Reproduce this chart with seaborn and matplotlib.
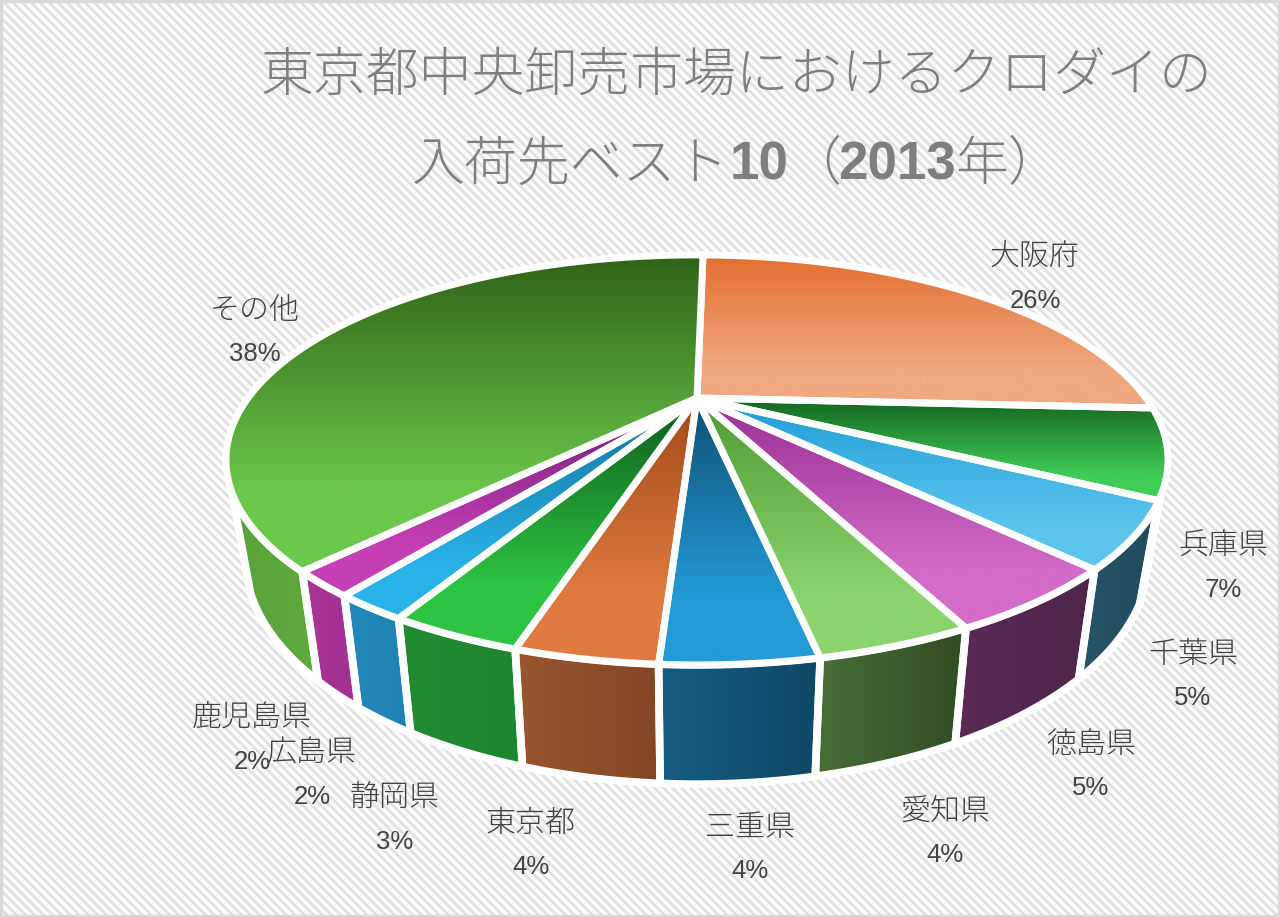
import numpy as np
import matplotlib
matplotlib.use("Agg")
import matplotlib.pyplot as plt
import seaborn as sns
from matplotlib.patches import Polygon

# data, clockwise from the top
prefectures = ["大阪府", "兵庫県", "千葉県", "徳島県", "愛知県", "三重県", "東京都", "静岡県", "広島県", "鹿児島県", "その他"]
shares = [25.6, 7.0, 5.0, 5.0, 4.1, 4.05, 3.7, 3.5, 2.0, 1.9, 38.3]
share_labels = ["26%", "7%", "5%", "5%", "4%", "4%", "4%", "3%", "2%", "2%", "38%"]

top_dark = ["#E36E2F", "#13641F", "#1F9DD4", "#982E94", "#4F9A32", "#0F4F73",
            "#A04A1A", "#0D5A1A", "#12709C", "#6E1E78", "#2F6318"]
top_light = ["#EFA880", "#41CC57", "#5CC5EE", "#D26CC8", "#8AD46E", "#229BD6",
             "#E07A40", "#2DC443", "#29B2E8", "#C63FB4", "#6CC84A"]
wall_left = ["#99562F", "#2F8A3A", "#275468", "#5A2A55", "#486E38", "#165C82",
             "#99562F", "#218C32", "#2389BA", "#AA3596", "#5AA33A"]
wall_right = ["#834625", "#2F8A3A", "#214A5E", "#4E2549", "#324C22", "#0E4865",
              "#834625", "#1E8530", "#1F83B2", "#A03090", "#5FAA3D"]

# where each label sits on the canvas (pixels)
label_xy = [(1035, 257), (1223, 546), (1193, 654), (1091, 744), (945, 811), (750, 827),
            (531, 823), (395, 798), (312, 753), (252, 718), (255, 310)]
LABEL_GAP = 44

START_ANGLE = 1
WALL_FROM, WALL_TO = 117, 244
APEX_X, APEX_Y = 697, 398
TOP_A, TOP_B, TILT = 449, 186.3, 0.302
BOT_A, BOT_B, BOT_Y = 431, 206, 489
GRADIENT_END = 0.75
GREY = "#7F7F7F"
TEXT = "#444444"
LATIN = ["Liberation Sans", "Noto Sans CJK JP"]


def project(theta, a, b, cy):
    # theta in degrees clockwise from the top, seen through a perspective tilt
    t = np.radians(theta)
    x, y = np.sin(t), np.cos(t)
    d = 1 + TILT * y
    return APEX_X + a * x / d, cy - b * y / d


def arc(t0, t1, a, b, cy):
    ts = np.linspace(t0, t1, max(int(abs(t1 - t0) * 3), 2))
    return np.column_stack(project(ts, a, b, cy))


def fill_gradient(ax, pts, colors, vertical, z, lw=5):
    cmap = sns.blend_palette(colors, 256, as_cmap=True)
    ramp = np.linspace(0, 1, 256)
    if vertical:
        ramp = np.clip(ramp / GRADIENT_END, 0, 1)[:, None]
    else:
        ramp = ramp[None, :]
    poly = Polygon(pts, closed=True, facecolor="none", edgecolor="white", linewidth=lw,
                   joinstyle="round", zorder=z + 0.1)
    ax.add_patch(poly)
    im = ax.imshow(ramp, cmap=cmap, aspect="auto", interpolation="bilinear", origin="upper",
                   vmin=0, vmax=1,
                   extent=(pts[:, 0].min(), pts[:, 0].max(), pts[:, 1].max(), pts[:, 1].min()),
                   zorder=z)
    im.set_clip_path(poly)


def title_line(fig, ax, pieces, x, y):
    renderer = fig.canvas.get_renderer()
    for txt, bold in pieces:
        t = ax.text(x, y, txt, fontsize=38.1, color=GREY, va="baseline", ha="left",
                    fontweight="bold" if bold else "light",
                    family=["Liberation Sans"] if bold else ["Noto Sans CJK JP"], zorder=6)
        x = t.get_window_extent(renderer).x1 if not txt.startswith("（") else x + 50


sns.set_theme(style="white")
fig = plt.figure(figsize=(12.8, 9.17), dpi=100)
ax = fig.add_axes([0, 0, 1, 1])
ax.axis("off")

# diagonal stripes behind everything
yy, xx = np.mgrid[0:917, 0:1280]
stripes = np.where((xx - yy) % 9 < 4, 0.885, 0.98)
ax.imshow(stripes, cmap="gray", vmin=0, vmax=1, extent=(0, 1280, 917, 0), aspect="auto",
          interpolation="bilinear", zorder=0)
ax.add_patch(plt.Rectangle((1, 1), 1278, 915, fill=False, edgecolor="#DADADA", linewidth=2.5, zorder=1))

edges = START_ANGLE + 360 * np.concatenate([[0], np.cumsum(shares)]) / np.sum(shares)

# side walls first, only the part facing the viewer
for i in range(len(shares)):
    t0, t1 = max(edges[i], WALL_FROM), min(edges[i + 1], WALL_TO)
    if t1 <= t0:
        continue
    pts = np.vstack([arc(t0, t1, TOP_A, TOP_B, APEX_Y), arc(t1, t0, BOT_A, BOT_B, BOT_Y)])
    fill_gradient(ax, pts, [wall_left[i], wall_right[i]], False, 2 + i * 0.01, lw=5.5)

# top face
for i in range(len(shares)):
    pts = np.vstack([[APEX_X, APEX_Y], arc(edges[i], edges[i + 1], TOP_A, TOP_B, APEX_Y)])
    fill_gradient(ax, pts, [top_dark[i], top_light[i]], True, 3 + i * 0.01)

for name, pct, (lx, ly) in zip(prefectures, share_labels, label_xy):
    ax.text(lx, ly, name, fontsize=21.6, color=TEXT, ha="center", va="center",
            family=["Noto Sans CJK JP"], fontweight="light", zorder=5)
    ax.text(lx, ly + LABEL_GAP, pct, fontsize=18.5, color=TEXT, ha="center", va="center",
            family=LATIN, zorder=5)

ax.set_xlim(0, 1280)
ax.set_ylim(917, 0)

fig.canvas.draw()
title_line(fig, ax, [("東京都中央卸売市場におけるクロダイの", False)], 260, 91)
line2 = [("入荷先ベスト", False), ("10", True), ("（", False), ("2013", True), ("年）", False)]
title_line(fig, ax, line2, 412, 180)

fig.savefig("out.png", dpi=100)
